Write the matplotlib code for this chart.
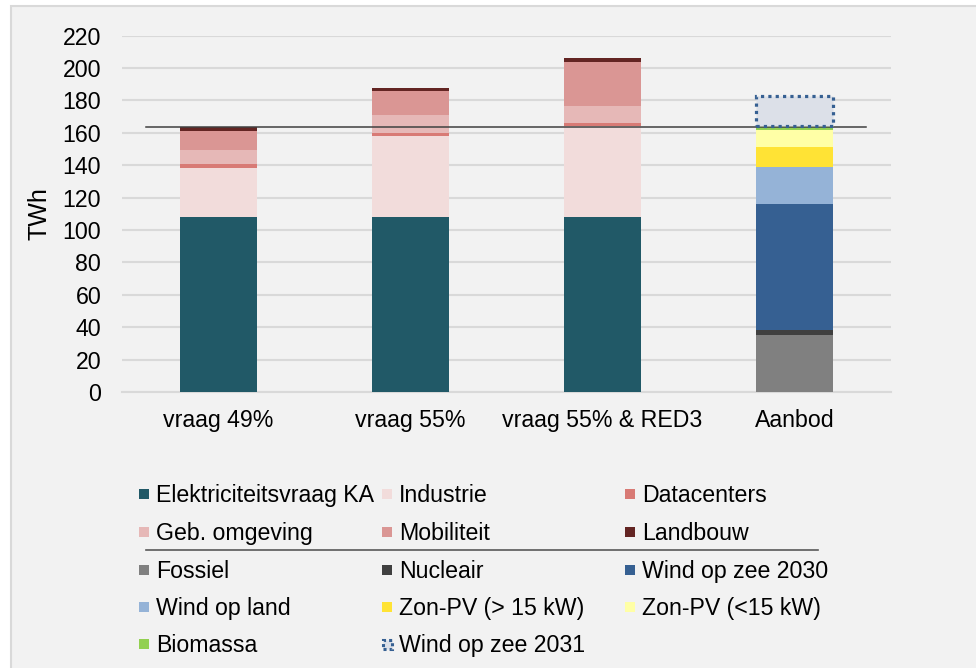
import matplotlib
matplotlib.use("Agg")
import matplotlib.pyplot as plt
from matplotlib.patches import Rectangle
from matplotlib.lines import Line2D
import numpy as np

plt.rcParams['font.family'] = ['Liberation Sans', 'DejaVu Sans']

categories = ["vraag 49%", "vraag 55%", "vraag 55% & RED3", "Aanbod"]

# demand series (TWh)
elektriciteitsvraag_ka = [108, 108, 108, 0]
industrie = [30.5, 50, 56, 0]
datacenters = [2.2, 2.1, 2.0, 0]
geb_omgeving = [8.7, 11, 10.5, 0]
mobiliteit = [12, 14.4, 27.4, 0]
landbouw = [2.0, 2.4, 2.3, 0]

# supply series (TWh)
fossiel = [0, 0, 0, 35]
nucleair = [0, 0, 0, 3.5]
wind_op_zee_2030 = [0, 0, 0, 77.5]
wind_op_land = [0, 0, 0, 23]
zon_pv_groot = [0, 0, 0, 12.5]
zon_pv_klein = [0, 0, 0, 10.5]
biomassa = [0, 0, 0, 2]
wind_op_zee_2031 = [0, 0, 0, 19]

referentie_lijn = 163.6
yticks = list(range(0, 221, 20))

W, H = 976, 668
FS = 16.7
fig = plt.figure(figsize=(W / 100, H / 100), dpi=100, facecolor='white')

# chart area background with border
fig.patches.append(Rectangle((11 / W, -0.01), 1.05, (H - 6) / H + 0.01,
                             transform=fig.transFigure, facecolor='#F2F2F2',
                             edgecolor='#D9D9D9', linewidth=1.5, zorder=-5))

ax = fig.add_axes([122 / W, (H - 392) / H, (891 - 122) / W, (392 - 35.6) / H])
ax.set_facecolor('none')
ax.set_zorder(2)

x = np.arange(len(categories))
bw = 0.4

series = [
    ("Elektriciteitsvraag KA", elektriciteitsvraag_ka, '#215967'),
    ("Industrie", industrie, '#F2DCDB'),
    ("Datacenters", datacenters, '#D87A75'),
    ("Geb. omgeving", geb_omgeving, '#E6B8B7'),
    ("Mobiliteit", mobiliteit, '#DA9694'),
    ("Landbouw", landbouw, '#632523'),
    ("Fossiel", fossiel, '#808080'),
    ("Nucleair", nucleair, '#404040'),
    ("Wind op zee 2030", wind_op_zee_2030, '#366092'),
    ("Wind op land", wind_op_land, '#95B3D7'),
    ("Zon-PV (> 15 kW)", zon_pv_groot, '#FFE335'),
    ("Zon-PV (<15 kW)", zon_pv_klein, '#FFFFA6'),
    ("Biomassa", biomassa, '#92D050'),
]

bottom = np.zeros(len(categories))
for name, vals, col in series:
    v = np.array(vals, dtype=float)
    m = v > 0
    ax.bar(x[m], v[m], bw, bottom=bottom[m], color=col, edgecolor='none', zorder=3)
    bottom += v

v31 = np.array(wind_op_zee_2031, dtype=float)
m31 = v31 > 0
ax.bar(x[m31], v31[m31], bw, bottom=bottom[m31], facecolor='#DCE0E8',
       edgecolor='#366092', linewidth=2.3, linestyle=(0, (1, 1.3)), zorder=5)

ax.plot([-0.375, 3.37], [referentie_lijn, referentie_lijn], color='#404040',
        linewidth=1.1, zorder=4)

ax.set_xlim(-0.5, 3.5)
ax.set_ylim(0, 220)
ax.set_yticks(yticks)
ax.set_yticklabels([str(t) for t in yticks])
ax.set_xticks(x)
ax.set_xticklabels(categories)
ax.tick_params(axis='both', length=0, labelsize=FS, colors='#000000')
ax.tick_params(axis='y', pad=15)
ax.tick_params(axis='x', pad=12)
ax.grid(axis='y', color='#D9D9D9', linewidth=1.5, zorder=0)
ax.set_axisbelow(True)
for s in ['top', 'right', 'left']:
    ax.spines[s].set_visible(False)
ax.spines['bottom'].set_color('#D9D9D9')
ax.spines['bottom'].set_linewidth(1.5)
ax.set_ylabel("TWh", fontsize=18, labelpad=8)

# manual legend (figure pixel coordinates from top-left)
def fx(px):
    return px / W

def fy(py):
    return (H - py) / H

sq = 10
col_sq = [139, 382, 625]
col_tx = [156, 399, 642]
rows_y = [494, 532, 570, 607, 644]
colmap = {n: c for n, _, c in series}
order = [
    ("Elektriciteitsvraag KA", 0, 0), ("Industrie", 0, 1), ("Datacenters", 0, 2),
    ("Geb. omgeving", 1, 0), ("Mobiliteit", 1, 1), ("Landbouw", 1, 2),
    ("Fossiel", 2, 0), ("Nucleair", 2, 1), ("Wind op zee 2030", 2, 2),
    ("Wind op land", 3, 0), ("Zon-PV (> 15 kW)", 3, 1), ("Zon-PV (<15 kW)", 3, 2),
    ("Biomassa", 4, 0),
]
for name, r, c in order:
    cy = rows_y[r]
    fig.patches.append(Rectangle((fx(col_sq[c]), fy(cy + sq / 2)), sq / W, sq / H,
                                 transform=fig.transFigure, facecolor=colmap[name],
                                 edgecolor='none', zorder=5))
    fig.text(fx(col_tx[c]), fy(cy + 1.5), name, fontsize=FS, va='center', ha='left')

# Wind op zee 2031 legend entry
cy = rows_y[4]
fig.patches.append(Rectangle((fx(col_sq[1] + 1), fy(cy + 4.5)), 9 / W, 9 / H,
                             transform=fig.transFigure, facecolor='#DCE0E8',
                             edgecolor='#366092', linewidth=2.2,
                             linestyle=(0, (1, 1.0)), zorder=5))
fig.text(fx(col_tx[1]), fy(cy + 1.5), "Wind op zee 2031", fontsize=FS, va='center', ha='left')

# separator line between demand and supply legend
fig.lines.append(Line2D([fx(146), fx(818)], [fy(550), fy(550)],
                        transform=fig.transFigure, color='#595959', linewidth=1.2))

fig.savefig("out.png", dpi=100, facecolor=fig.get_facecolor())
